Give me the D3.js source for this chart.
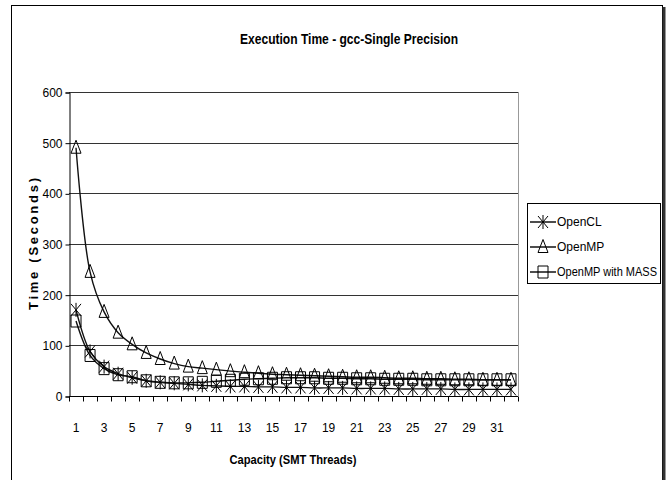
<!DOCTYPE html>
<html>
<head>
<meta charset="utf-8">
<script src="https://cdn.jsdelivr.net/npm/d3@7"></script>
<style>
  body { margin: 0; background: #fff; }
  svg { display: block; font-family: "Liberation Sans", Arial, sans-serif; }
</style>
</head>
<body>
<svg width="669" height="480"></svg>
<script>
var threads = d3.range(1, 33);
var openCL = [170, 88, 58, 44, 36, 30, 27, 25, 23, 21, 20, 19, 19, 18, 18, 17,
              17, 16, 16, 16, 15, 15, 15, 14, 14, 14, 14, 13, 13, 13, 13, 13];
var openMP = [490, 245, 166, 125, 102, 85, 73, 64, 58, 55, 52, 49, 47, 45, 43, 42,
              41, 40, 39, 38, 37, 37, 36, 35, 35, 34, 34, 33, 33, 32, 32, 32];
var openMPMass = [148, 80, 54, 42, 38, 30, 27, 26, 26, 27, 29, 31, 33, 34, 35, 36,
                  36, 36, 35, 35, 34, 34, 33, 33, 33, 32, 32, 32, 32, 32, 32, 32];
var yTicks = [0, 100, 200, 300, 400, 500, 600];
var seriesNames = ['OpenCL', 'OpenMP', 'OpenMP with MASS'];

var svg = d3.select('svg');

// chart frame with shadow on the right
svg.append('rect')
    .attr('x', 11.5).attr('y', 5.5)
    .attr('width', 651).attr('height', 490)
    .attr('fill', 'none').attr('stroke', '#000');
svg.append('line')
    .attr('x1', 664).attr('x2', 664).attr('y1', 7).attr('y2', 480)
    .attr('stroke', '#333').attr('stroke-width', 3);

var plotLeft = 69, plotRight = 518, plotTop = 92, plotBottom = 396;

var x = d3.scaleBand().domain(threads).range([plotLeft, plotRight]);
var y = d3.scaleLinear().domain([0, 600]).range([plotBottom, plotTop]);

// grid lines
svg.append('g').selectAll('line')
    .data(yTicks.slice(1))
    .enter().append('line')
    .attr('x1', plotLeft).attr('x2', plotRight)
    .attr('y1', function (d) { return Math.round(y(d)) + 0.5; })
    .attr('y2', function (d) { return Math.round(y(d)) + 0.5; })
    .attr('stroke', '#333');

// plot area right edge
svg.append('line')
    .attr('x1', plotRight + 0.5).attr('x2', plotRight + 0.5)
    .attr('y1', plotTop).attr('y2', plotBottom)
    .attr('stroke', '#999');

// y axis
var yAxis = svg.append('g')
    .attr('transform', 'translate(' + (plotLeft + 0.5) + ',0.5)')
    .call(d3.axisLeft(y).tickValues(yTicks).tickSize(4).tickPadding(3));
yAxis.selectAll('text').attr('font-size', 12).attr('fill', '#000')
    .attr('font-family', '"Liberation Sans", Arial, sans-serif');

// x axis: ticks between categories, labels on odd ones
var xAxisG = svg.append('g').attr('transform', 'translate(0,' + (plotBottom + 0.5) + ')');
xAxisG.append('line')
    .attr('x1', plotLeft).attr('x2', plotRight)
    .attr('stroke', '#000');
xAxisG.selectAll('.tk')
    .data(threads.concat([33]))
    .enter().append('line')
    .attr('class', 'tk')
    .attr('x1', function (d) { return Math.round(plotLeft + (d - 1) * x.step()) + 0.5; })
    .attr('x2', function (d) { return Math.round(plotLeft + (d - 1) * x.step()) + 0.5; })
    .attr('y1', 0).attr('y2', 5)
    .attr('stroke', '#000');
xAxisG.selectAll('text')
    .data(threads.filter(function (d) { return d % 2 === 1; }))
    .enter().append('text')
    .attr('x', function (d) { return x(d) + x.bandwidth() / 2; })
    .attr('y', 35)
    .attr('text-anchor', 'middle')
    .attr('font-size', 12)
    .text(function (d) { return d; });

// titles
svg.append('text')
    .attr('x', 349).attr('y', 44)
    .attr('text-anchor', 'middle')
    .attr('font-size', 14).attr('font-weight', 'bold')
    .attr('textLength', 218).attr('lengthAdjust', 'spacingAndGlyphs')
    .text('Execution Time - gcc-Single Precision');

svg.append('text')
    .attr('x', 293).attr('y', 464)
    .attr('text-anchor', 'middle')
    .attr('font-size', 12).attr('font-weight', 'bold')
    .attr('textLength', 127).attr('lengthAdjust', 'spacingAndGlyphs')
    .text('Capacity (SMT Threads)');

svg.append('text')
    .attr('transform', 'translate(38,244) rotate(-90)')
    .attr('text-anchor', 'middle')
    .attr('font-size', 13).attr('font-weight', 'bold')
    .attr('textLength', 132).attr('lengthAdjust', 'spacing')
    .text('Time (Seconds)');

// markers
function drawMarker(g, type) {
    if (type === 'star') {
        g.append('path').attr('d', 'M-5,-6L5,6M5,-6L-5,6M0,-7L0,7');
    } else if (type === 'triangle') {
        g.append('path').attr('d', 'M0,-7.5L5,5.5L-5,5.5Z');
    } else {
        g.append('path').attr('d', 'M-5,-6L5,-6L5,6L-5,6Z');
    }
    g.selectAll('path').attr('fill', 'none').attr('stroke', '#000').attr('stroke-width', 1);
}

var series = [
    { name: seriesNames[0], values: openCL, marker: 'star' },
    { name: seriesNames[1], values: openMP, marker: 'triangle' },
    { name: seriesNames[2], values: openMPMass, marker: 'square' }
];

var line = d3.line()
    .x(function (d, i) { return x(threads[i]) + x.bandwidth() / 2; })
    .y(function (d) { return y(d); })
    .curve(d3.curveCatmullRom.alpha(0.5));

series.forEach(function (s) {
    svg.append('path')
        .datum(s.values)
        .attr('d', line)
        .attr('fill', 'none')
        .attr('stroke', '#111')
        .attr('stroke-width', 1.4);
});

series.forEach(function (s) {
    svg.append('g').selectAll('g')
        .data(s.values)
        .enter().append('g')
        .attr('transform', function (d, i) {
            return 'translate(' + (x(threads[i]) + x.bandwidth() / 2) + ',' + y(d) + ')';
        })
        .each(function () { drawMarker(d3.select(this), s.marker); });
});

// legend
var legend = svg.append('g');
legend.append('rect')
    .attr('x', 527.5).attr('y', 203.5)
    .attr('width', 133).attr('height', 80)
    .attr('fill', '#fff').attr('stroke', '#000');
series.forEach(function (s, i) {
    var ly = 222 + i * 25;
    legend.append('line')
        .attr('x1', 530).attr('x2', 556)
        .attr('y1', ly).attr('y2', ly)
        .attr('stroke', '#000').attr('stroke-width', 1.4);
    var mg = legend.append('g').attr('transform', 'translate(543,' + ly + ')');
    drawMarker(mg, s.marker);
    var t = legend.append('text')
        .attr('x', 557).attr('y', ly + 4)
        .attr('font-size', 12)
        .text(s.name);
    if (i === 2) t.attr('textLength', 100).attr('lengthAdjust', 'spacingAndGlyphs');
});
</script>
</body>
</html>
